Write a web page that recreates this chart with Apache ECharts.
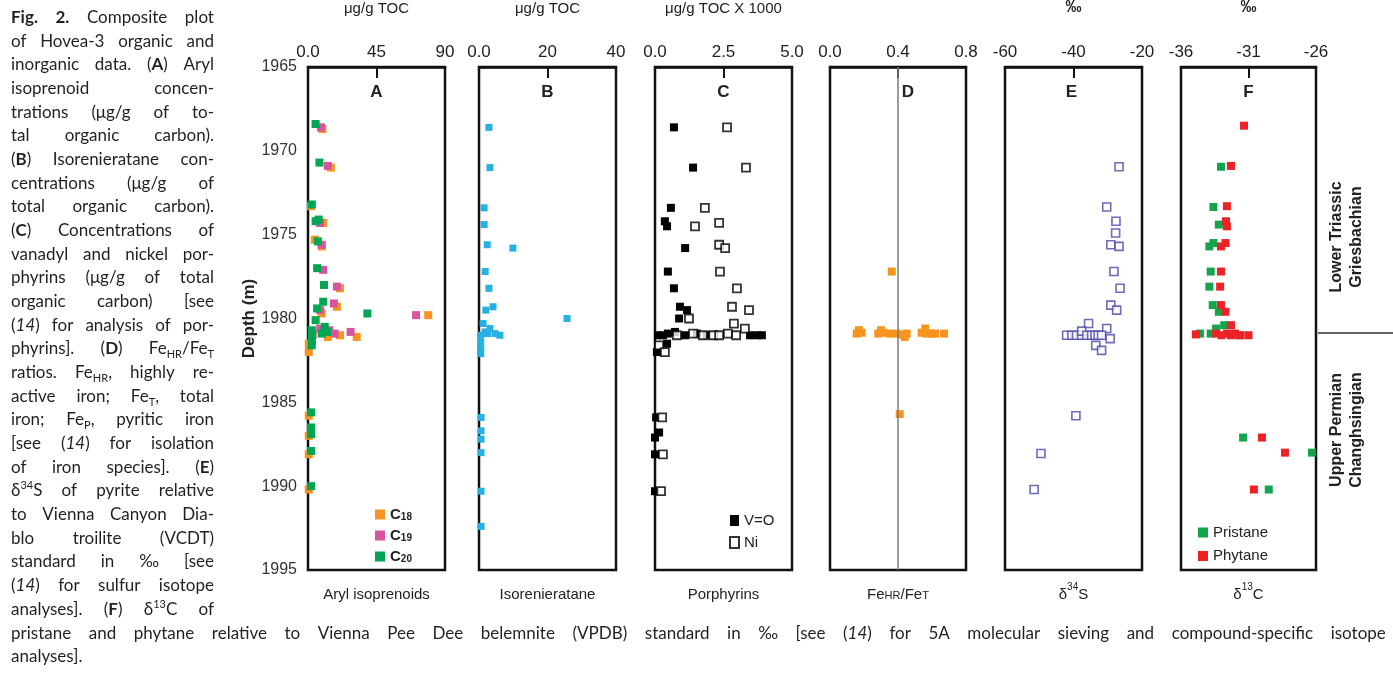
<!DOCTYPE html>
<html><head><meta charset="utf-8">
<script src="https://cdn.jsdelivr.net/npm/echarts@6/dist/echarts.min.js"></script>
<style>
html,body{margin:0;padding:0;background:#fff;overflow:hidden;}
#chart{position:absolute;left:0;top:0;width:1393px;height:674px;}
#cap{position:absolute;left:11px;top:5px;width:203px;font-family:'Lato','Noto Sans',sans-serif;font-size:17px;line-height:23.68px;color:#231f20;z-index:2;}
#cap2{position:absolute;left:11px;top:620.7px;width:1375px;font-family:'Lato','Noto Sans',sans-serif;font-size:17px;line-height:23.68px;color:#231f20;z-index:2;}
.l{display:flex;justify-content:space-between;white-space:nowrap;height:23.68px;}
.l0{white-space:nowrap;height:23.68px;}
sub,sup{font-size:11px;line-height:0;}
</style></head>
<body>
<div id="chart"></div>
<div id="cap"></div>
<div id="cap2"></div>
<script>
// ---------------- DATA ----------------
const depthTicks = [1965, 1970, 1975, 1980, 1985, 1990, 1995];

// A: aryl isoprenoids [value µg/g TOC, depth m]
const c18 = [[9.5,1968.7],[15,1971.0],[2,1973.3],[10,1974.3],[4.5,1975.3],[9,1975.7],[21,1978.2],[19,1979.3],[9,1979.7],[79,1979.8],[3,1980.9],[13,1981.1],[21,1981.0],[32,1981.1],[0.5,1981.5],[0.5,1982.0],[0.5,1985.8],[0.5,1987.0],[0.5,1988.1],[0.5,1990.2]];
const c19 = [[8.5,1968.6],[13,1970.9],[8,1974.3],[9,1975.6],[10,1977.1],[19,1978.1],[17,1979.1],[8,1979.5],[71,1979.8],[17.5,1980.9],[28,1980.8],[8,1980.6],[14,1980.7],[3,1981.0]];
const c20 = [[5,1968.4],[7.5,1970.7],[2.5,1973.2],[5,1974.2],[7,1974.1],[6.5,1975.4],[6,1977.0],[10.5,1978.0],[10,1979.0],[6,1979.4],[39,1979.7],[5,1980.1],[11,1980.5],[12.5,1980.8],[9,1980.9],[2.5,1980.7],[2.5,1981.0],[2.5,1981.3],[2.5,1981.6],[2,1985.6],[2,1986.5],[2,1986.9],[2,1987.9],[2,1990.0]];

// B: isorenieratane
const isoren = [[2.9,1968.6],[3.2,1971.0],[1.5,1973.4],[1.5,1974.4],[2.4,1975.6],[9.9,1975.8],[1.8,1977.2],[2.9,1978.2],[4.1,1979.3],[2.0,1979.5],[25.7,1980.0],[1.2,1980.3],[3.2,1980.6],[1.8,1980.8],[4.7,1980.9],[6.1,1981.0],[2.5,1980.9],[0.5,1981.0],[0.5,1981.4],[0.5,1981.8],[0.5,1982.1],[0.6,1985.9],[0.6,1986.7],[0.6,1987.2],[0.6,1988.0],[0.6,1990.3],[0.6,1992.4]];

// C: porphyrins (µg/g TOC x 1000)
const vo = [[0.69,1968.6],[1.39,1971.0],[0.58,1973.4],[0.36,1974.2],[0.44,1974.5],[1.1,1975.8],[0.47,1977.2],[0.69,1978.2],[0.91,1979.3],[1.17,1979.5],[0.88,1980.0],[0.11,1981.0],[0.29,1981.0],[0.47,1980.9],[0.73,1980.8],[1.1,1981.0],[1.53,1980.9],[1.9,1981.0],[3.47,1981.0],[3.72,1981.0],[3.9,1981.0],[0.44,1981.5],[0.07,1982.0],[0.04,1985.9],[0.15,1986.8],[0.0,1987.1],[0.0,1988.1],[0.0,1990.3]];
const ni = [[2.63,1968.6],[3.32,1971.0],[1.82,1973.4],[1.46,1974.5],[2.34,1974.3],[2.34,1975.6],[2.56,1975.8],[2.37,1977.2],[2.99,1978.2],[2.81,1979.3],[3.43,1979.5],[1.24,1980.0],[2.88,1980.3],[3.28,1980.6],[0.8,1981.0],[1.39,1980.9],[1.75,1981.0],[2.12,1981.0],[2.34,1981.0],[2.66,1980.9],[2.96,1981.0],[0.15,1981.6],[0.36,1982.0],[0.26,1985.9],[0.29,1988.1],[0.22,1990.3]];

// D: FeHR/FeT
const feRatio = [[0.363,1977.2],[0.157,1980.9],[0.186,1980.85],[0.17,1980.7],[0.284,1980.9],[0.314,1980.85],[0.30,1980.7],[0.353,1980.9],[0.392,1980.9],[0.422,1980.95],[0.451,1980.9],[0.44,1981.1],[0.539,1980.85],[0.569,1980.9],[0.56,1980.6],[0.598,1980.9],[0.618,1980.9],[0.671,1980.9],[0.41,1985.7]];
const feRef = 0.4;

// E: d34S (‰)
const d34S = [[-26.7,1970.95],[-30.3,1973.35],[-27.6,1974.2],[-27.7,1974.9],[-29.1,1975.6],[-26.7,1975.7],[-28.2,1977.2],[-26.4,1978.2],[-29.1,1979.2],[-27.4,1979.5],[-35.6,1980.3],[-30.3,1980.6],[-42.0,1981.0],[-40.5,1981.0],[-39.1,1981.0],[-37.6,1981.0],[-37.6,1980.75],[-36.1,1981.0],[-34.7,1981.0],[-33.7,1981.0],[-32.8,1981.0],[-31.8,1981.0],[-29.3,1981.2],[-33.5,1981.6],[-31.8,1981.9],[-39.3,1985.8],[-49.5,1988.05],[-51.5,1990.2]];

// F: d13C (‰)
const pristane = [[-33.04,1970.95],[-33.6,1973.35],[-33.2,1974.4],[-33.9,1975.7],[-33.6,1975.5],[-33.8,1977.2],[-33.9,1978.1],[-33.65,1979.2],[-33.2,1979.6],[-34.6,1980.9],[-33.8,1980.9],[-33.4,1980.6],[-32.8,1980.4],[-31.7,1981.0],[-31.4,1987.1],[-26.3,1988.0],[-29.5,1990.2]];
const phytane = [[-31.33,1968.5],[-32.3,1970.9],[-32.6,1973.3],[-32.67,1974.2],[-32.6,1974.5],[-33.04,1975.7],[-32.7,1975.5],[-33.04,1977.2],[-33.1,1978.1],[-33.04,1979.2],[-32.7,1979.6],[-34.9,1980.95],[-33.4,1980.9],[-33.0,1981.0],[-32.6,1980.9],[-32.3,1981.0],[-32.0,1980.9],[-31.6,1981.0],[-32.3,1980.4],[-31.0,1981.0],[-30.0,1987.1],[-28.3,1988.0],[-30.6,1990.2]];

// axis tick values per panel
const ticksA = [0, 45, 90], ticksB = [0, 20, 40], ticksC = [0, 2.5, 5], ticksD = [0, 0.4, 0.8], ticksE = [-60, -40, -20], ticksF = [-36, -31, -26];

// ---------------- CAPTION ----------------
const capLines = [
 '<b>Fig. 2.</b> Composite plot','of Hovea-3 organic and','inorganic data. (<b>A</b>) Aryl','isoprenoid concen-','trations (μg/g of to-','tal organic carbon).',
 '(<b>B</b>) Isorenieratane con-','centrations (μg/g of','total organic carbon).','(<b>C</b>) Concentrations of','vanadyl and nickel por-','phyrins (μg/g of total',
 'organic carbon) [see','(<i>14</i>) for analysis of por-','phyrins]. (<b>D</b>) Fe<sub>HR</sub>/Fe<sub>T</sub>','ratios. Fe<sub>HR</sub>, highly re-','active iron; Fe<sub>T</sub>, total','iron; Fe<sub>P</sub>, pyritic iron',
 '[see (<i>14</i>) for isolation','of iron species]. (<b>E</b>)','δ<sup>34</sup>S of pyrite relative','to Vienna Canyon Dia-','blo troilite (VCDT)','standard in ‰ [see','(<i>14</i>) for sulfur isotope','analyses]. (<b>F</b>) δ<sup>13</sup>C of'
];
function just(s){return '<div class="l">'+s.split(' ').map(w=>'<span>'+w+'</span>').join('')+'</div>';}
document.getElementById('cap').innerHTML = capLines.map(just).join('');
document.getElementById('cap2').innerHTML = just('pristane and phytane relative to Vienna Pee Dee belemnite (VPDB) standard in ‰ [see (<i>14</i>) for 5A molecular sieving and compound-specific isotope') + '<div class="l0">analyses].</div>';

// ---------------- CHART ----------------
const FONT = 'Liberation Sans, Arial, sans-serif';
const TOP = 67, H = 503;
const panels = [
 {left:308, width:137, ticks:ticksA, fmt:v=>v===0?'0.0':String(v), unit:'μg/g TOC', letter:'A', letterDx:0},
 {left:479, width:137, ticks:ticksB, fmt:v=>v===0?'0.0':String(v), unit:'μg/g TOC', letter:'B', letterDx:0},
 {left:655, width:137, ticks:ticksC, fmt:v=>v.toFixed(1), unit:'μg/g TOC X 1000', letter:'C', letterDx:0},
 {left:830, width:136, ticks:ticksD, fmt:v=>v.toFixed(1), unit:'', letter:'D', letterDx:10},
 {left:1005, width:137, ticks:ticksE, fmt:v=>String(v), unit:'‰', letter:'E', letterDx:-2},
 {left:1181, width:135, ticks:ticksF, fmt:v=>String(v), unit:'‰', letter:'F', letterDx:0}
];
const bottomLabels = ['{n|Aryl isoprenoids}','{n|Isorenieratane}','{n|Porphyrins}','{n|Fe}{s|HR}{n|/Fe}{s|T}','{n|δ}{p|34}{n|S}','{n|δ}{p|13}{n|C}'];

const grid = [], xAxis = [], yAxis = [], graphic = [];
panels.forEach((p,i)=>{
  grid.push({left:p.left, top:TOP, width:p.width, height:H, show:true, borderColor:'#111', borderWidth:2.5, backgroundColor:'transparent', containLabel:false, outerBoundsMode:'none'});
  xAxis.push({gridIndex:i, type:'value', position:'top', min:p.ticks[0], max:p.ticks[2],
    axisLine:{show:true, lineStyle:{color:'#111', width:2.5}},
    axisTick:{show:true, inside:true, length:11, lineStyle:{color:'#111', width:2}, customValues:[p.ticks[1]]},
    axisLabel:{show:true, customValues:p.ticks, formatter:p.fmt, margin:6, fontSize:17, color:'#222', fontFamily:FONT},
    splitLine:{show:false},
    name:p.unit, nameLocation:'middle', nameGap:51,
    nameTextStyle:{fontSize:p.unit==='‰'?16:15, color:'#222', fontFamily:FONT, fontWeight:p.unit==='‰'?'bold':'normal'}
  });
  yAxis.push({gridIndex:i, type:'value', inverse:true, min:1965, max:1995, show:i===0,
    axisLine:{show:false}, axisTick:{show:false}, splitLine:{show:false},
    axisLabel:{show:i===0, customValues:depthTicks, formatter:v=>String(v), margin:11, fontSize:16, color:'#333', fontFamily:'Liberation Sans Narrow, Liberation Sans, sans-serif'},
    name:i===0?'Depth (m)':'', nameLocation:'middle', nameRotate:90, nameGap:49,
    nameTextStyle:{fontSize:17, fontWeight:'bold', color:'#222', fontFamily:FONT}
  });
  graphic.push({type:'text', x:p.left+p.width/2+p.letterDx, y:92, silent:true,
    style:{text:p.letter, fontSize:17, fontWeight:'bold', fill:'#222', fontFamily:FONT, align:'center', verticalAlign:'middle'}});
  graphic.push({type:'text', x:p.left+p.width/2, y:591, silent:true,
    style:{text:bottomLabels[i], align:'center', verticalAlign:'middle', fontFamily:FONT,
      rich:{n:{fontSize:15, fill:'#222', lineHeight:22, verticalAlign:'bottom', fontFamily:FONT},
            s:{fontSize:11, fill:'#222', lineHeight:22, verticalAlign:'bottom', fontFamily:FONT, padding:[0,0,1,0]},
            p:{fontSize:10, fill:'#222', lineHeight:22, verticalAlign:'top', fontFamily:FONT, padding:[2,0,0,0]}}}});
});
graphic.push({type:'line', silent:true, shape:{x1:1318, y1:333, x2:1393, y2:333}, style:{stroke:'#333', lineWidth:1.5}});
graphic.push({type:'text', x:1347, y:237, rotation:Math.PI/2, silent:true,
  style:{text:'Lower Triassic\nGriesbachian', fontSize:16, fontWeight:'bold', fill:'#222', fontFamily:FONT, align:'center', verticalAlign:'middle', lineHeight:20}});
graphic.push({type:'text', x:1347, y:430, rotation:Math.PI/2, silent:true,
  style:{text:'Upper Permian\nChanghsingian', fontSize:16, fontWeight:'bold', fill:'#222', fontFamily:FONT, align:'center', verticalAlign:'middle', lineHeight:20}});

function sc(name, data, gi, color, opts){
  return Object.assign({type:'scatter', name:name, data:data, xAxisIndex:gi, yAxisIndex:gi, symbol:'rect', symbolSize:8,
    itemStyle:{color:color, opacity:1}, silent:true}, opts||{});
}
const series = [
  sc('C18', c18, 0, '#f7931e'),
  sc('C19', c19, 0, '#d6559f'),
  sc('C20', c20, 0, '#00a651'),
  sc('Isorenieratane', isoren, 1, '#27b1e2', {symbolSize:7}),
  sc('V=O', vo, 2, '#000'),
  sc('Ni', ni, 2, '#fff', {itemStyle:{color:'#fff', borderColor:'#000', borderWidth:1.8}}),
  sc('FeHR/FeT', feRatio, 3, '#f7941d', {markLine:{silent:true, symbol:'none', label:{show:false}, lineStyle:{color:'#7a7a7a', width:1.5, type:'solid'}, data:[{xAxis:feRef}]}}),
  sc('d34S', d34S, 4, '#fff', {itemStyle:{color:'#fff', borderColor:'#4747a9', borderWidth:1.6}}),
  sc('Pristane', pristane, 5, '#12a54c'),
  sc('Phytane', phytane, 5, '#ec2227')
];

const legTxt = {fontSize:15, color:'#222', fontFamily:FONT};
const legend = [
  {data:['C18','C19','C20'], orient:'vertical', left:375, top:507, padding:0, itemWidth:10, itemHeight:10, itemGap:6, selectedMode:false,
   formatter:n=>'{c|C}{d|'+n.slice(1)+'}', textStyle:{rich:{c:{fontSize:15, color:'#222', fontFamily:FONT, fontWeight:'bold'}, d:{fontSize:10, color:'#222', fontFamily:FONT, fontWeight:'bold', verticalAlign:'bottom'}}}},
  {data:['V=O','Ni'], orient:'vertical', left:729, top:513, padding:0, itemWidth:9, itemHeight:11, itemGap:7, selectedMode:false, textStyle:legTxt},
  {data:['Pristane','Phytane'], orient:'vertical', left:1198, top:525, padding:0, itemWidth:10, itemHeight:10, itemGap:8.5, selectedMode:false, textStyle:legTxt}
];

const chart = echarts.init(document.getElementById('chart'), null, {renderer:'canvas'});
chart.setOption({animation:false, backgroundColor:'#fff', grid, xAxis, yAxis, series, legend, graphic});
</script>
</body></html>
